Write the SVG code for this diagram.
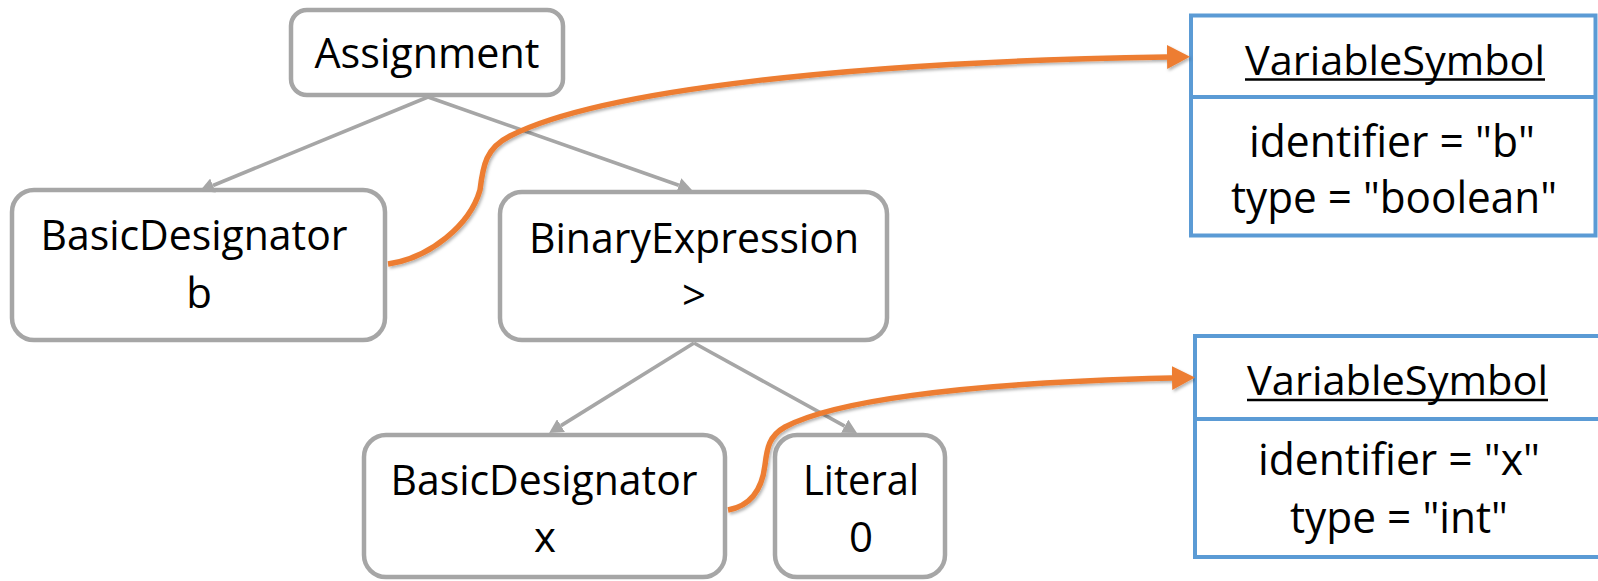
<svg xmlns="http://www.w3.org/2000/svg" width="1598" height="581" viewBox="0 0 1598 581">
  <defs>
    <style>
      .node rect { fill: #ffffff; stroke: #a6a6a6; stroke-width: 4.5; }
      .sym rect, .sym line.div { fill: #ffffff; stroke: #5b9bd5; stroke-width: 4; }
      text { font-family: "Open Sans", "Noto Sans", "DejaVu Sans", sans-serif; fill: #000000; text-anchor: middle; }
      .t { font-size: 42px; }
      .hd { font-size: 40px; }
      .bd { font-size: 44px; }
      .ul { stroke: #000000; stroke-width: 2.4; }
      .edge { fill: none; stroke: #a6a6a6; stroke-width: 3.6; marker-end: url(#tri-gray); }
      .ref { fill: none; stroke: #ed7d31; stroke-width: 5.5; marker-end: url(#tri-orange); filter: url(#soft-shadow); }
    </style>
    <marker id="tri-gray" viewBox="0 0 14 15" refX="0" refY="7.5" markerWidth="14" markerHeight="15" markerUnits="userSpaceOnUse" orient="auto">
      <path d="M0,0 L14,7.5 L0,15 z" fill="#a6a6a6"/>
    </marker>
    <marker id="tri-orange" viewBox="0 0 23 24" refX="0" refY="12" markerWidth="23" markerHeight="24" markerUnits="userSpaceOnUse" orient="auto">
      <path d="M0,0 L23,12 L0,24 z" fill="#ed7d31"/>
    </marker>
    <filter id="soft-shadow" x="-5%" y="-20%" width="110%" height="140%">
      <feDropShadow dx="1.5" dy="2" stdDeviation="1.5" flood-color="#000000" flood-opacity="0.3"/>
    </filter>
  </defs>

  <!-- syntax tree nodes -->
  <g id="assignment" class="node">
    <rect x="291" y="10" width="272" height="85" rx="16"/>
    <text class="t" x="427" y="68" textLength="225" lengthAdjust="spacingAndGlyphs">Assignment</text>
  </g>
  <g id="designator-b" class="node">
    <rect x="12" y="190" width="373" height="150" rx="22"/>
    <text class="t" x="194" y="250" textLength="307" lengthAdjust="spacingAndGlyphs">BasicDesignator</text>
    <text class="t" x="199" y="308">b</text>
  </g>
  <g id="binary-expression" class="node">
    <rect x="500" y="192" width="387" height="148" rx="22"/>
    <text class="t" x="694" y="253" textLength="330" lengthAdjust="spacingAndGlyphs">BinaryExpression</text>
    <text class="t" x="694" y="310">&gt;</text>
  </g>
  <g id="designator-x" class="node">
    <rect x="364" y="435" width="361" height="142" rx="22"/>
    <text class="t" x="544" y="495" textLength="307" lengthAdjust="spacingAndGlyphs">BasicDesignator</text>
    <text class="t" x="545" y="552">x</text>
  </g>
  <g id="literal" class="node">
    <rect x="775" y="435" width="170" height="142" rx="22"/>
    <text class="t" x="861" y="495" textLength="116" lengthAdjust="spacingAndGlyphs">Literal</text>
    <text class="t" x="861" y="552">0</text>
  </g>

  <!-- symbol table entries -->
  <g id="symbol-b" class="sym">
    <rect x="1191" y="15.5" width="404.5" height="220"/>
    <line class="div" x1="1191" y1="97" x2="1595.5" y2="97"/>
    <text class="hd" x="1395" y="75" textLength="300" lengthAdjust="spacingAndGlyphs">VariableSymbol</text>
    <line class="ul" x1="1245" y1="79.5" x2="1545" y2="79.5"/>
    <text class="bd" x="1392" y="157" textLength="286" lengthAdjust="spacingAndGlyphs">identifier = "b"</text>
    <text class="bd" x="1394" y="213" textLength="326" lengthAdjust="spacingAndGlyphs">type = "boolean"</text>
  </g>
  <g id="symbol-x" class="sym">
    <rect x="1195" y="336" width="410" height="221"/>
    <line class="div" x1="1195" y1="419" x2="1605" y2="419"/>
    <text class="hd" x="1397.5" y="395" textLength="301" lengthAdjust="spacingAndGlyphs">VariableSymbol</text>
    <line class="ul" x1="1247" y1="400" x2="1548" y2="400"/>
    <text class="bd" x="1399" y="475" textLength="282" lengthAdjust="spacingAndGlyphs">identifier = "x"</text>
    <text class="bd" x="1399" y="533" textLength="218" lengthAdjust="spacingAndGlyphs">type = "int"</text>
  </g>

  <!-- connectors: tree edges and symbol references -->
  <g id="connectors">
    <path class="edge" d="M428,97 L213,185.5"/>
    <path class="edge" d="M428,97 L678.8,185.3"/>
    <path class="edge" d="M694,343 L561,425.6"/>
    <path class="edge" d="M694,343 L844.7,426.2"/>
    <path class="ref" d="M388,264 C430,258 470,225 480,190 C483,165 486,148 510,136 C600,90 850,62 1167,57"/>
    <path class="ref" d="M728,510 C750,506 762,490 765,465 C767,448 769,436 785,427 C830,403 950,383 1172,378"/>
  </g>
</svg>
